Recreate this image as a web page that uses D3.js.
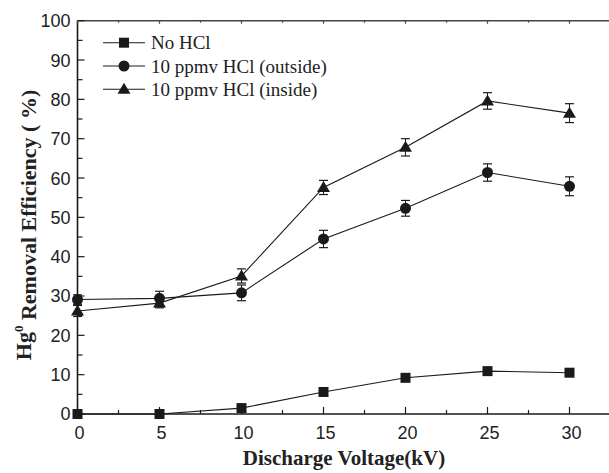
<!DOCTYPE html>
<html>
<head>
<meta charset="utf-8">
<script src="https://cdn.jsdelivr.net/npm/d3@7"></script>
<style>
  body { margin: 0; background: #fff; }
  svg { display: block; }
  .tick-label { font-family: "Liberation Sans", Arial, sans-serif; font-size: 18px; fill: #222; }
  .axis-title { font-family: "Liberation Serif", "Times New Roman", serif; font-weight: bold; fill: #222; }
  .legend text { font-family: "Liberation Serif", "Times New Roman", serif; font-size: 19px; fill: #222; }
</style>
</head>
<body>
<svg id="chart" width="609" height="473"></svg>
<script>
// data
var voltage   = [0, 5, 10, 15, 20, 25, 30];
var noHCl     = [0, 0, 1.5, 5.6, 9.2, 10.9, 10.5];
var outside   = [29.1, 29.4, 30.8, 44.5, 52.3, 61.4, 57.9];
var outErr    = [1.2, 1.8, 2.0, 2.2, 2.0, 2.2, 2.4];
var inside    = [26.2, 28.2, 35.1, 57.6, 67.8, 79.6, 76.5];
var inErr     = [1.4, 1.2, 1.8, 1.8, 2.2, 2.1, 2.4];
var seriesNames = ["No HCl", "10 ppmv HCl (outside)", "10 ppmv HCl (inside)"];
var xTicks    = [0, 5, 10, 15, 20, 25, 30];
var yTicks    = [0, 10, 20, 30, 40, 50, 60, 70, 80, 90, 100];

var svg = d3.select("#chart");
var ink = "#1a1a1a";

var m = {left: 77.5, top: 20.7, bottom: 414};
var x = d3.scaleLinear().domain([0, 32.5]).range([m.left, m.left + 32.5 * 16.4]);
var y = d3.scaleLinear().domain([0, 100]).range([m.bottom, m.top]);

var series = [
  {name: seriesNames[0], vals: noHCl,   err: null,   shape: "square"},
  {name: seriesNames[1], vals: outside, err: outErr, shape: "circle"},
  {name: seriesNames[2], vals: inside,  err: inErr,  shape: "triangle"}
];

// axes: minor every 2.5 / 5, ticks pointing inward
var minorX = d3.range(0, 32.6, 2.5);
var minorY = d3.range(0, 100.1, 5);

svg.append("line").attr("x1", m.left).attr("x2", 609).attr("y1", m.bottom).attr("y2", m.bottom)
    .attr("stroke", ink).attr("stroke-width", 1.6);
svg.append("line").attr("x1", m.left).attr("x2", 609).attr("y1", m.top).attr("y2", m.top)
    .attr("stroke", "#444").attr("stroke-width", 1.4);
svg.append("line").attr("x1", m.left).attr("x2", m.left).attr("y1", m.top).attr("y2", m.bottom)
    .attr("stroke", ink).attr("stroke-width", 1.6);

svg.append("g").selectAll("line").data(minorX).join("line")
    .attr("x1", function(d) { return x(d); }).attr("x2", function(d) { return x(d); })
    .attr("y1", m.bottom)
    .attr("y2", function(d) { return m.bottom - (d % 5 === 0 ? 7 : 4); })
    .attr("stroke", ink).attr("stroke-width", 1.2);
svg.append("g").selectAll("line").data(minorX).join("line")
    .attr("x1", function(d) { return x(d); }).attr("x2", function(d) { return x(d); })
    .attr("y1", m.top)
    .attr("y2", function(d) { return m.top + (d % 5 === 0 ? 3 : 2); })
    .attr("stroke", "#444").attr("stroke-width", 1.2);
svg.append("g").selectAll("line").data(minorY).join("line")
    .attr("y1", function(d) { return y(d); }).attr("y2", function(d) { return y(d); })
    .attr("x1", m.left)
    .attr("x2", function(d) { return m.left + (d % 10 === 0 ? 7 : 5); })
    .attr("stroke", ink).attr("stroke-width", 1.2);

// tick labels
svg.append("g").selectAll("text").data(xTicks).join("text")
    .attr("class", "tick-label")
    .attr("x", function(d) { return x(d) + 2; })
    .attr("y", 439)
    .attr("text-anchor", "middle")
    .text(function(d) { return d; });
svg.append("g").selectAll("text").data(yTicks).join("text")
    .attr("class", "tick-label")
    .attr("x", 70.5)
    .attr("y", function(d) { return y(d); })
    .attr("dy", "0.36em")
    .attr("text-anchor", "end")
    .text(function(d) { return d; });

// axis titles
svg.append("text")
    .attr("class", "axis-title")
    .attr("x", 344).attr("y", 465)
    .attr("text-anchor", "middle")
    .style("font-size", "21px")
    .text("Discharge Voltage(kV)");

var yt = svg.append("text")
    .attr("class", "axis-title")
    .attr("transform", "translate(31,225) rotate(-90)")
    .attr("text-anchor", "middle")
    .style("font-size", "22px");
yt.append("tspan").text("Hg");
yt.append("tspan").attr("dy", "-0.6em").style("font-size", "13px").text("0");
yt.append("tspan").attr("dy", "0.6em").text(" Removal Efficiency ( %)");

// marker drawing
function drawMarker(g, shape, cx, cy) {
  if (shape === "square") {
    g.append("rect").attr("x", cx - 5).attr("y", cy - 5).attr("width", 10).attr("height", 10)
        .attr("fill", ink);
  } else if (shape === "circle") {
    g.append("circle").attr("cx", cx).attr("cy", cy).attr("r", 5.5).attr("fill", ink);
  } else {
    g.append("path")
        .attr("d", "M" + cx + "," + (cy - 6.5) + "L" + (cx + 6.5) + "," + (cy + 4.5) + "L" + (cx - 6.5) + "," + (cy + 4.5) + "Z")
        .attr("fill", ink);
  }
}

var line = d3.line()
    .x(function(d) { return x(d[0]); })
    .y(function(d) { return y(d[1]); });

series.forEach(function(s) {
  var g = svg.append("g");
  var pts = voltage.map(function(v, i) { return [v, s.vals[i]]; });
  g.append("path").attr("d", line(pts))
      .attr("fill", "none").attr("stroke", ink).attr("stroke-width", 1.1);

  // error bars
  if (s.err) {
    voltage.forEach(function(v, i) {
      var cx = x(v), y0 = y(s.vals[i] - s.err[i]), y1 = y(s.vals[i] + s.err[i]);
      g.append("line").attr("x1", cx).attr("x2", cx).attr("y1", y0).attr("y2", y1)
          .attr("stroke", ink).attr("stroke-width", 1);
      [y0, y1].forEach(function(yy) {
        g.append("line").attr("x1", cx - 4.5).attr("x2", cx + 4.5).attr("y1", yy).attr("y2", yy)
            .attr("stroke", ink).attr("stroke-width", 1.2);
      });
    });
  }
  voltage.forEach(function(v, i) { drawMarker(g, s.shape, x(v), y(s.vals[i])); });
});

// legend
var legend = svg.append("g").attr("class", "legend");
series.forEach(function(s, i) {
  var ly = 42.7 + i * 23.3;
  legend.append("line").attr("x1", 103).attr("x2", 145).attr("y1", ly).attr("y2", ly)
      .attr("stroke", ink).attr("stroke-width", 1.1);
  drawMarker(legend, s.shape, 124, ly);
  legend.append("text").attr("x", 151).attr("y", ly + 6.5).text(s.name);
});
</script>
</body>
</html>
